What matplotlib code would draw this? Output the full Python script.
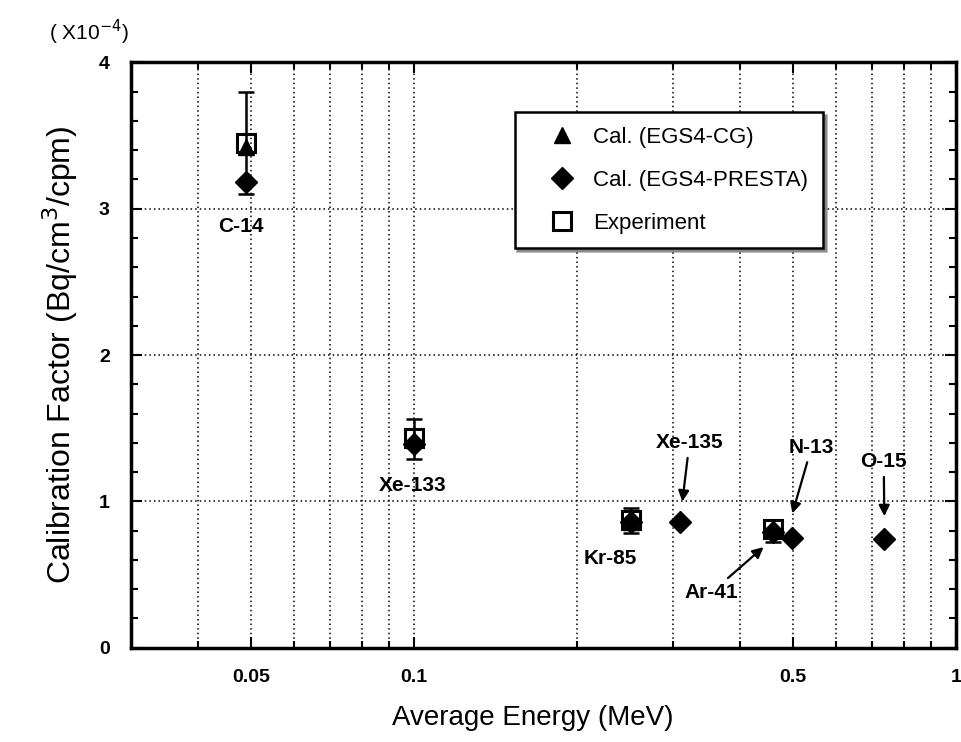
import matplotlib.pyplot as plt
from matplotlib.ticker import FixedLocator, NullFormatter

plt.rcParams['font.family'] = ['Liberation Sans', 'DejaVu Sans']

# Nuclides and average beta energies (MeV)
nuclides = ["C-14", "Xe-133", "Kr-85", "Xe-135", "Ar-41", "N-13", "O-15"]
energy = [0.049, 0.100, 0.251, 0.310, 0.460, 0.497, 0.737]

# Calibration factor (x10^-4 Bq/cm3/cpm)
presta = [3.18, 1.39, 0.86, 0.86, 0.79, 0.75, 0.74]

cg_energy = [0.049, 0.100, 0.251, 0.460]
cg = [3.42, 1.42, 0.86, 0.81]

exp_energy = [0.049, 0.100, 0.251, 0.460]
exp_val = [3.45, 1.43, 0.87, 0.81]
exp_err_lo = [0.35, 0.14, 0.085, 0.09]
exp_err_hi = [0.35, 0.13, 0.085, 0.06]

fig = plt.figure(figsize=(9.61, 7.42), dpi=100)
ax = fig.add_axes([0.136, 0.127, 0.859, 0.789])

ax.errorbar(exp_energy, exp_val, yerr=[exp_err_lo, exp_err_hi], fmt='none',
            ecolor='black', elinewidth=1.8, capsize=6, capthick=1.8, zorder=3)
ax.plot(energy, presta, 'D', color='black', markersize=11, zorder=4,
        label="Cal. (EGS4-PRESTA)")
ax.plot(cg_energy, cg, '^', color='black', markersize=11, zorder=5,
        label="Cal. (EGS4-CG)")
ax.plot(exp_energy, exp_val, 's', markerfacecolor='none', markeredgecolor='black',
        markeredgewidth=2.2, markersize=13, zorder=6, label="Experiment")

ax.set_xscale('log')
ax.set_xlim(0.03, 1.0)
ax.set_ylim(0, 4)
ax.xaxis.set_major_locator(FixedLocator([0.05, 0.1, 0.5, 1.0]))
ax.set_xticklabels(["0.05", "0.1", "0.5", "1"])
ax.xaxis.set_minor_locator(FixedLocator([0.04, 0.06, 0.07, 0.08, 0.09,
                                         0.2, 0.3, 0.4, 0.6, 0.7, 0.8, 0.9]))
ax.xaxis.set_minor_formatter(NullFormatter())
ax.set_yticks([0, 1, 2, 3, 4])
ax.yaxis.set_minor_locator(FixedLocator([i * 0.2 for i in range(21)]))

ax.grid(True, which='both', axis='x', color='black', linestyle=(0, (1, 2)), linewidth=1.1)
ax.grid(True, which='major', axis='y', color='black', linestyle=(0, (1, 2)), linewidth=1.1)

ax.tick_params(which='both', direction='in', top=True, right=True, width=1.5)
ax.tick_params(which='major', length=8, labelsize=14, pad=15)
ax.tick_params(which='minor', length=5)
for lab in ax.get_xticklabels() + ax.get_yticklabels():
    lab.set_fontweight('bold')
for sp in ax.spines.values():
    sp.set_linewidth(2.5)

ax.set_xlabel("Average Energy (MeV)", fontsize=20)
ax.xaxis.set_label_coords(0.487, -0.097)
ax.set_ylabel("Calibration Factor (Bq/cm$^3$/cpm)", fontsize=23, labelpad=14)
fig.text(0.051, 0.957, "( X10$^{-4}$)", fontsize=15, va='center')

# labels for each nuclide
lbl = dict(fontsize=15, fontweight='bold', ha='center', va='center')
ax.text(0.048, 2.88, "C-14", **lbl)
ax.text(0.0995, 1.11, "Xe-133", **lbl)
ax.text(0.230, 0.61, "Kr-85", **lbl)
arrow = dict(arrowstyle='-|>', color='black', lw=1.6, mutation_scale=16)
ax.annotate("Xe-135", xy=(0.312, 0.98), xytext=(0.322, 1.40),
            arrowprops=arrow, **lbl)
ax.annotate("N-13", xy=(0.497, 0.90), xytext=(0.541, 1.37),
            arrowprops=arrow, **lbl)
ax.annotate("O-15", xy=(0.737, 0.88), xytext=(0.735, 1.27),
            arrowprops=arrow, **lbl)
ax.annotate("Ar-41", xy=(0.445, 0.70), xytext=(0.354, 0.38),
            arrowprops=arrow, **lbl)

handles, labels = ax.get_legend_handles_labels()
order = [1, 0, 2]
leg = ax.legend([handles[i] for i in order], [labels[i] for i in order],
                loc='upper left', bbox_to_anchor=(0.465, 0.915), borderaxespad=0,
                frameon=True, fancybox=False, shadow=True, borderpad=0.65,
                labelspacing=1.0, handletextpad=-0.1, handlelength=3.0,
                edgecolor='black', prop={'size': 16})
leg.get_frame().set_linewidth(1.8)

fig.savefig("out.png", dpi=100)
